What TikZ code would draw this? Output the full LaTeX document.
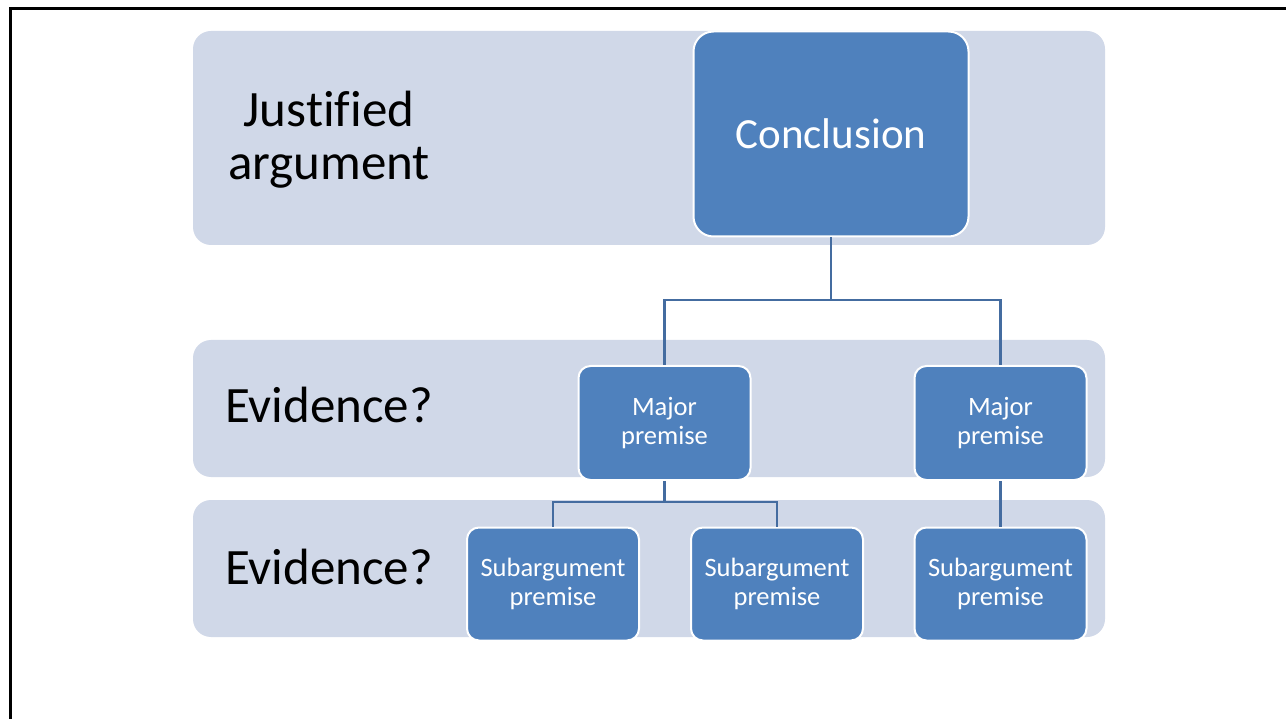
\documentclass[tikz,border=0pt]{standalone}
\usepackage{fontspec}
\setmainfont[Ligatures=NoCommon]{Carlito}
\definecolor{bandfill}{RGB}{208,216,232}
\definecolor{boxfill}{RGB}{79,129,189}
\definecolor{connclr}{RGB}{68,108,160}
\begin{document}
\begin{tikzpicture}[x=1pt,y=-1pt,
  band/.style={rectangle, rounded corners=18pt, fill=bandfill, inner sep=0pt},
  bigbox/.style={rectangle, rounded corners=20pt, fill=boxfill, draw=white, line width=2pt, text=white, inner sep=0pt, font=\fontsize{43}{50}\selectfont},
  smallbox/.style={rectangle, rounded corners=12pt, fill=boxfill, draw=white, line width=2pt, text=white, inner sep=0pt, align=center, font=\fontsize{26.5}{29.5}\selectfont, minimum width=172pt, minimum height=113pt},
  lbl/.style={inner sep=0pt, text=black, align=center, font=\fontsize{51}{53}\selectfont},
  conn/.style={draw=connclr, line width=2.5pt}]
\useasboundingbox (0,0) rectangle (1286,719);
\fill[white] (0,0) rectangle (1286,719);
% frame
\coordinate (fbl) at (10.5,720);
\coordinate (ftl) at (10.5,8.5);
\coordinate (ftr) at (1287,8.5);
\draw[black, line width=3pt] (fbl) -- (ftl) -- (ftr);
% bands
\node[band, minimum width=912pt, minimum height=214pt] (band1) at (649,138) {};
\node[band, minimum width=912pt, minimum height=137pt] (band2) at (649,408.5) {};
\node[band, minimum width=912pt, minimum height=137pt] (band3) at (649,568.5) {};
% labels
\node[lbl] (l1) at (329,140) {Justified\\argument};
\node[lbl, anchor=base] (l2) at (329,423) {Evidence?};
\node[lbl, anchor=base] (l3) at (329,584) {Evidence?};
% coordinates for connectors
\coordinate (j1) at (831,300);
\coordinate (j2) at (664.5,502);
% boxes
\node[bigbox, minimum width=275pt, minimum height=205pt] (concl) at (831,134) {Conclusion};
\node[smallbox, minimum height=114pt] (mp1) at (664.5,423) {Major\\premise};
\node[smallbox, minimum height=114pt] (mp2) at (1000.5,423) {Major\\premise};
\node[smallbox] (s1) at (553,584) {Subargument\\premise};
\node[smallbox] (s2) at (777,584) {Subargument\\premise};
\node[smallbox] (s3) at (1000.5,584) {Subargument\\premise};
% connectors
\draw[conn] (concl.south) -- (j1);
\draw[conn] (mp1.north) |- (j1) -| (mp2.north);
\draw[conn] (mp1.south) -- (j2);
\draw[conn] (s1.north) |- (j2) -| (s2.north);
\draw[conn] (mp2.south) -- (s3.north);
\end{tikzpicture}
\end{document}
